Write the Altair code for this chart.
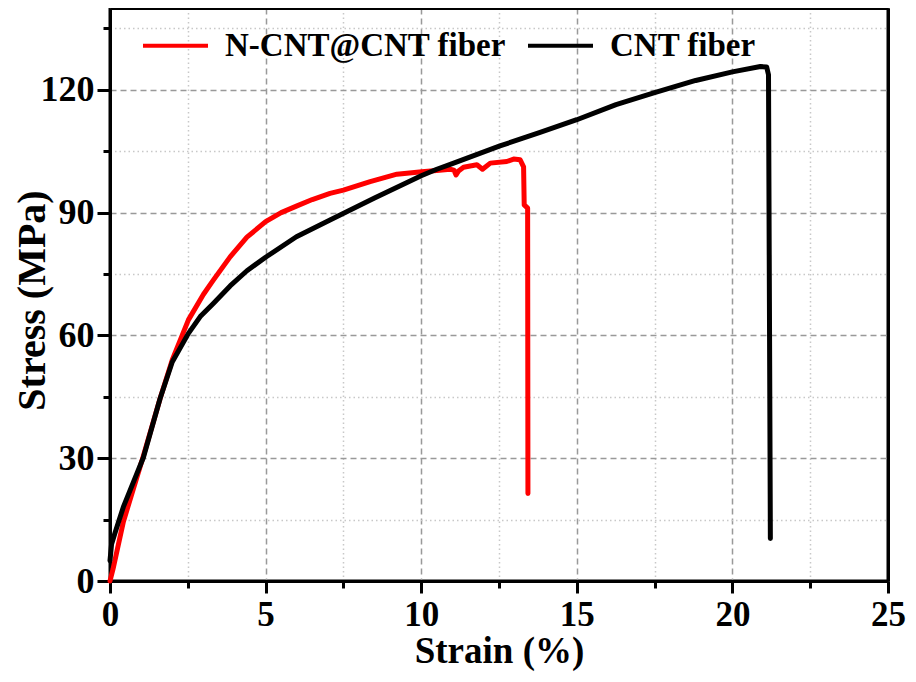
import altair as alt
import pandas as pd

# N-CNT@CNT fiber (red)
red_strain = [0, 0.1, 0.43, 1.07, 1.61, 2.0, 2.52, 3.0, 3.32, 3.86, 4.4, 5.0, 5.5, 5.99, 6.5, 7.07,
              7.5, 8.36, 9.22, 10.02, 10.5, 10.93, 11.05, 11.12, 11.2, 11.36, 11.79, 11.97, 12.22,
              12.75, 12.97, 13.18, 13.29, 13.31, 13.42, 13.43]
red_stress = [0, 3, 14.5, 30.5, 44.6, 54, 63.8, 70, 73.5, 79.2, 84, 87.8, 90, 91.6, 93.2, 94.7,
              95.5, 97.6, 99.4, 100.0, 100.3, 100.6, 100.4, 99.2, 100.2, 101.1, 101.7, 100.6, 102.1,
              102.5, 103.1, 102.9, 101.2, 91.9, 91.1, 21.4]

# CNT fiber (black)
black_strain = [0, 0.05, 0.15, 0.43, 1.07, 1.61, 2.0, 2.52, 2.9, 3.32, 3.86, 4.4, 5.0, 5.99, 7.07, 8.5,
                10.0, 10.5, 11.0, 12.53, 13.82, 15.0, 16.26, 17.5, 18.82, 20.0, 20.9, 21.1, 21.16, 21.22]
black_stress = [5, 9, 11.5, 18.1, 30.1, 44.6, 53.5, 60.5, 64.6, 67.8, 72.1, 75.8, 79.1, 84.1, 88.2, 93.6,
                99.0, 100.6, 102.0, 106.3, 109.6, 112.7, 116.4, 119.3, 122.3, 124.4, 125.7, 125.6, 123.7, 10.4]

series_names = ["N-CNT@CNT fiber", "CNT fiber"]
series_colors = ["#ff0000", "#000000"]

x_ticks = [0, 2.5, 5, 7.5, 10, 12.5, 15, 17.5, 20, 22.5, 25]
y_ticks = [0, 15, 30, 45, 60, 75, 90, 105, 120, 135]

rows = []
for i, (s, v) in enumerate(zip(red_strain, red_stress)):
    rows.append({"strain": s, "stress": v, "series": series_names[0], "order": i})
for i, (s, v) in enumerate(zip(black_strain, black_stress)):
    rows.append({"strain": s, "stress": v, "series": series_names[1], "order": i})
df = pd.DataFrame(rows)

FONT = "Liberation Serif"
x_scale = alt.Scale(domain=[0, 25], nice=False, zero=False)
y_scale = alt.Scale(domain=[0, 140], nice=False)

x_axis = alt.Axis(
    orient="bottom",
    values=x_ticks,
    labelExpr="datum.value % 5 === 0 ? datum.label : ''",
    labelFlush=False,
    title="Strain (%)",
    titleFont=FONT, titleFontSize=37, titleFontWeight="bold", titleColor="black",
    titleBaseline="alphabetic", titleY=81,
    labelFont=FONT, labelFontSize=35, labelFontWeight="bold", labelColor="black",
    labelPadding=4,
    domainColor="black", domainWidth=3,
    tickColor="black", tickWidth=3,
    tickSize={"condition": {"test": "datum.value % 5 === 0", "value": 12}, "value": 7},
    grid=True,
    gridColor={"condition": {"test": "datum.value % 5 === 0", "value": "#999999"}, "value": "#c8c8c8"},
    gridDash={"condition": {"test": "datum.value % 5 === 0", "value": [6, 4]}, "value": [1.5, 3]},
    gridWidth=1.5,
)
y_axis = alt.Axis(
    orient="left",
    values=y_ticks,
    labelExpr="datum.value % 30 === 0 ? datum.label : ''",
    labelFlush=False,
    title="Stress (MPa)",
    titleFont=FONT, titleFontSize=40, titleFontWeight="bold", titleColor="black",
    titleBaseline="alphabetic", titleX=-66, titleY=292,
    labelFont=FONT, labelFontSize=36, labelFontWeight="bold", labelColor="black",
    labelPadding=3,
    domainColor="black", domainWidth=3,
    tickColor="black", tickWidth=3,
    tickSize={"condition": {"test": "datum.value % 30 === 0", "value": 13}, "value": 7},
    grid=True,
    gridColor={"condition": {"test": "datum.value % 30 === 0", "value": "#999999"}, "value": "#c8c8c8"},
    gridDash={"condition": {"test": "datum.value % 30 === 0", "value": [6, 4]}, "value": [1.5, 3]},
    gridWidth=1.5,
)

lines = alt.Chart(df).mark_line(strokeWidth=5, strokeJoin="round", strokeCap="round").encode(
    x=alt.X("strain:Q", scale=x_scale, axis=x_axis),
    y=alt.Y("stress:Q", scale=y_scale, axis=y_axis),
    color=alt.Color(
        "series:N",
        scale=alt.Scale(domain=series_names, range=series_colors),
        sort=series_names,
        legend=alt.Legend(
            title=None, orient="none", legendX=31, legendY=3, direction="horizontal",
            symbolType="stroke", symbolSize=4225, symbolStrokeWidth=4,
            labelFont=FONT, labelFontSize=33, labelFontWeight="bold", labelColor="black",
            labelOffset=15, columnPadding=14, padding=0, labelLimit=400,
        ),
    ),
    order="order:Q",
)

frame_axis_x = alt.Axis(orient="top", labels=False, ticks=False, grid=False, title=None,
                        domainColor="black", domainWidth=3)
frame_axis_y = alt.Axis(orient="right", labels=False, ticks=False, grid=False, title=None,
                        domainColor="black", domainWidth=3)
frame = alt.Chart(df).mark_point(opacity=0).encode(
    x=alt.X("strain:Q", scale=x_scale, axis=frame_axis_x),
    y=alt.Y("stress:Q", scale=y_scale, axis=frame_axis_y),
)

chart = alt.layer(lines, frame).resolve_axis(
    x="independent", y="independent"
).properties(
    width=778, height=573,
    autosize=alt.AutoSizeParams(type="none"),
    padding={"left": 102, "top": 0, "right": 20, "bottom": 95},
).configure_view(
    stroke="black", strokeWidth=3
)

chart.save("out.html", embed_options={"renderer": "svg", "actions": False})
